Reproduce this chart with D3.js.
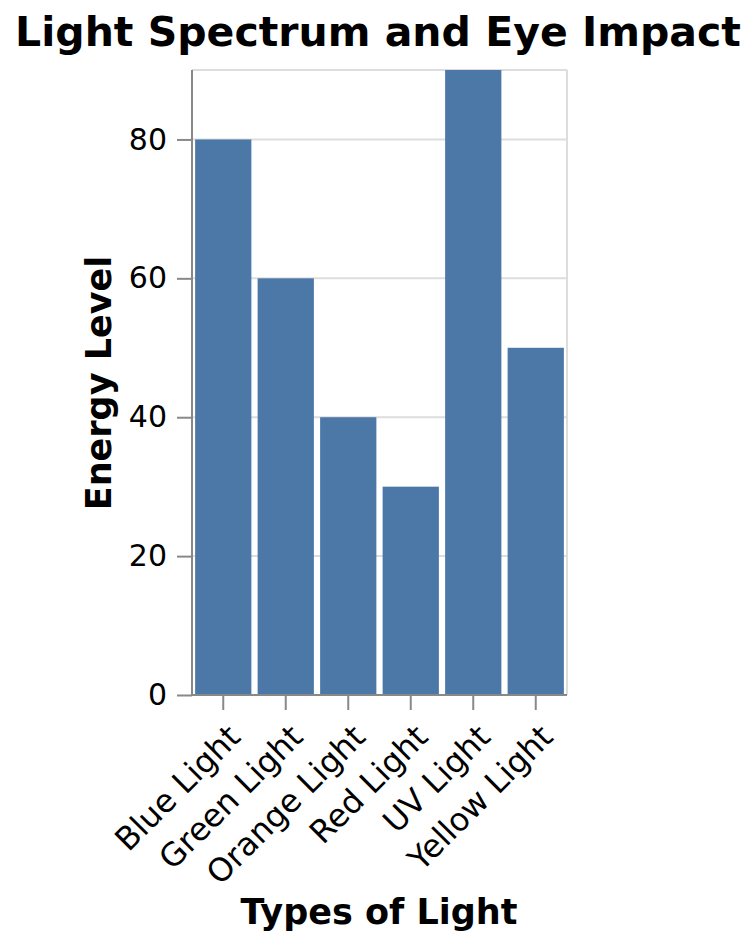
<!DOCTYPE html>
<html><head><meta charset="utf-8">
<script src="https://cdn.jsdelivr.net/npm/d3@7"></script>
<style>body{margin:0;background:#fff}svg{display:block}text{font-family:"DejaVu Sans",sans-serif}</style>
</head><body>
<script>
const categories = ["Blue Light","Green Light","Orange Light","Red Light","UV Light","Yellow Light"];
const values = [80, 60, 40, 30, 90, 50];
const yTicks = [0, 20, 40, 60, 80];
const title = "Light Spectrum and Eye Impact";
const xTitle = "Types of Light";
const yTitle = "Energy Level";

const W = 756, H = 946;
const m = {left: 192, top: 70, right: 567, bottom: 695};
const svg = d3.select("body").append("svg").attr("width", W).attr("height", H);

const x = d3.scaleBand().domain(categories).range([m.left, m.right]).paddingInner(0.1).paddingOuter(0.05);
const y = d3.scaleLinear().domain([0, 90]).range([m.bottom, m.top]);

// grid
svg.append("g").selectAll("line").data(yTicks.concat([90])).join("line")
  .attr("x1", m.left).attr("x2", m.right)
  .attr("y1", d => y(d)).attr("y2", d => y(d))
  .attr("stroke", "#ddd").attr("stroke-width", 2);
svg.append("line").attr("x1", m.right).attr("x2", m.right).attr("y1", m.top).attr("y2", m.bottom)
  .attr("stroke", "#ddd").attr("stroke-width", 2);

// bars
svg.append("g").selectAll("rect").data(categories).join("rect")
  .attr("x", d => x(d)).attr("width", x.bandwidth())
  .attr("y", (d, i) => y(values[i])).attr("height", (d, i) => y(0) - y(values[i]))
  .attr("fill", "#4c78a8");

// y axis
const yAxis = svg.append("g").attr("transform", `translate(${m.left},0)`)
  .call(d3.axisLeft(y).tickValues(yTicks).tickSize(15).tickPadding(10));
yAxis.select(".domain").attr("stroke", "#888").attr("stroke-width", 2).attr("d", `M0,${m.top}V${m.bottom}`);
yAxis.selectAll(".tick line").attr("stroke", "#888").attr("stroke-width", 2);
yAxis.selectAll(".tick text").attr("font-size", 30).attr("fill", "#000").attr("font-family", "DejaVu Sans");

// x axis
const xAxis = svg.append("g").attr("transform", `translate(0,${m.bottom})`)
  .call(d3.axisBottom(x).tickSize(15).tickPadding(6));
xAxis.select(".domain").attr("stroke", "#888").attr("stroke-width", 2).attr("d", `M${m.left},0H${m.right}`);
xAxis.selectAll(".tick line").attr("stroke", "#888").attr("stroke-width", 2);
xAxis.selectAll(".tick text").attr("font-size", 32).attr("fill", "#000").attr("font-family", "DejaVu Sans")
  .attr("text-anchor", "end").attr("dy", null).attr("y", 0)
  .attr("transform", "translate(2,27) rotate(-45)")
  .attr("dominant-baseline", "hanging");

// titles
svg.append("text").attr("x", 378).attr("y", 46).attr("text-anchor", "middle")
  .attr("font-size", 41).attr("font-weight", "bold").text(title);
svg.append("text").attr("x", 379).attr("y", 924).attr("text-anchor", "middle")
  .attr("font-size", 35).attr("font-weight", "bold").text(xTitle);
svg.append("text").attr("transform", `translate(111,383) rotate(-90)`)
  .attr("text-anchor", "middle").attr("font-size", 35).attr("font-weight", "bold").text(yTitle);
</script>
</body></html>
